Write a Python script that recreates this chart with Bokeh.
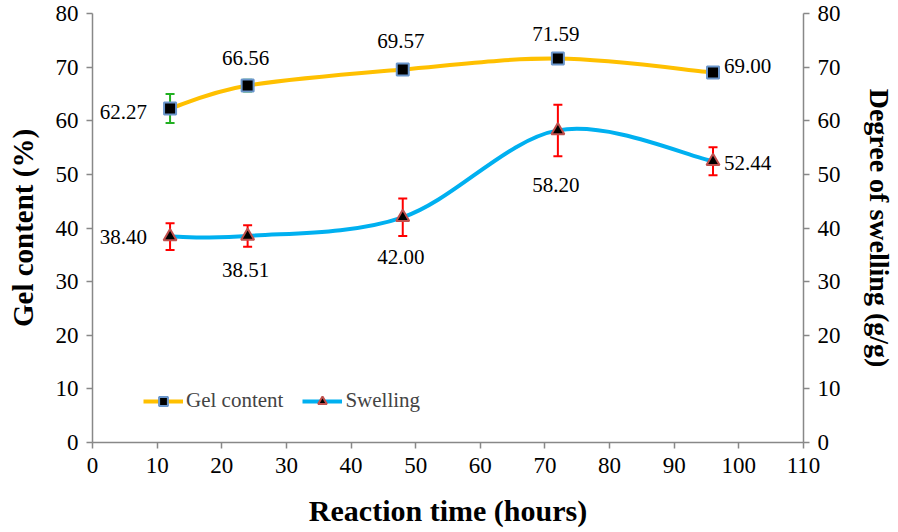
from bokeh.plotting import figure
from bokeh.models import (LinearAxis, FixedTicker, Whisker, TeeHead, ColumnDataSource,
                          Legend, LegendItem, Range1d)
from bokeh.core.properties import value
from bokeh.embed import file_html
from bokeh.resources import INLINE
import numpy as np

# ---- data ----
hours = [12, 24, 48, 72, 96]
gel_content = [62.27, 66.56, 69.57, 71.59, 69.00]
gel_err = [2.7, 1.1, 0.3, 0.3, 1.0]
swelling = [38.40, 38.51, 42.00, 58.20, 52.44]
swell_err = [2.5, 2.0, 3.5, 4.8, 2.6]
x_ticks = [0, 10, 20, 30, 40, 50, 60, 70, 80, 90, 100, 110]
y_ticks = [0, 10, 20, 30, 40, 50, 60, 70, 80]

FONT = "Liberation Serif"
AX = "#888888"

p = figure(width=898, height=532, output_backend="svg", toolbar_location=None,
           x_range=Range1d(0, 110), y_range=Range1d(0, 80),
           min_border_left=92, min_border_right=95, min_border_top=13,
           min_border_bottom=90)
p.outline_line_color = None
p.grid.visible = False


def style_axis(ax, label, size):
    ax.axis_label = label
    ax.axis_label_text_font = FONT
    ax.axis_label_text_font_style = "bold"
    ax.axis_label_text_font_size = size
    ax.axis_label_text_color = "black"
    ax.major_label_text_font = FONT
    ax.major_label_text_font_size = "23px"
    ax.major_label_text_color = "black"
    ax.axis_line_color = AX
    ax.axis_line_width = 1.5
    ax.major_tick_line_color = AX
    ax.major_tick_line_width = 1.5
    ax.major_tick_in = 0
    ax.major_tick_out = 6
    ax.minor_tick_line_color = None


p.xaxis.ticker = FixedTicker(ticks=x_ticks)
p.yaxis.ticker = FixedTicker(ticks=y_ticks)
style_axis(p.xaxis[0], "Reaction time (hours)", "30px")
style_axis(p.yaxis[0], "Gel content (%)", "29px")
p.xaxis.major_label_standoff = 9
p.xaxis.axis_label_standoff = 18
p.yaxis.major_label_standoff = 8
p.yaxis.axis_label_standoff = 14

ry = LinearAxis(ticker=FixedTicker(ticks=y_ticks))
style_axis(ry, "Degree of swelling (g/g)", "28px")
ry.major_label_standoff = 8
ry.axis_label_standoff = 20
p.add_layout(ry, "right")


def bezier_source(xs, ys):
    n = len(xs)
    P = [np.array([xs[i], ys[i]], dtype=float) for i in range(n)]
    d = dict(x0=[], y0=[], x1=[], y1=[], cx0=[], cy0=[], cx1=[], cy1=[])
    for i in range(n - 1):
        p0 = P[i - 1] if i > 0 else P[i]
        p1, p2 = P[i], P[i + 1]
        p3 = P[i + 2] if i + 2 < n else P[i + 1]
        c0 = p1 + (p2 - p0) / 6.0
        c1 = p2 - (p3 - p1) / 6.0
        d["x0"].append(p1[0]); d["y0"].append(p1[1])
        d["x1"].append(p2[0]); d["y1"].append(p2[1])
        d["cx0"].append(c0[0]); d["cy0"].append(c0[1])
        d["cx1"].append(c1[0]); d["cy1"].append(c1[1])
    return ColumnDataSource(d)


GOLD = "#FFC000"
BLUE = "#00B0F0"

gel_curve = p.bezier(source=bezier_source(hours, gel_content), x0="x0", y0="y0", x1="x1", y1="y1",
                     cx0="cx0", cy0="cy0", cx1="cx1", cy1="cy1", line_color=GOLD, line_width=4)
sw_curve = p.bezier(source=bezier_source(hours, swelling), x0="x0", y0="y0", x1="x1", y1="y1",
                    cx0="cx0", cy0="cy0", cx1="cx1", cy1="cy1", line_color=BLUE, line_width=4)

gsrc = ColumnDataSource(dict(x=hours, y=gel_content,
                             lo=[v - e for v, e in zip(gel_content, gel_err)],
                             hi=[v + e for v, e in zip(gel_content, gel_err)]))
ssrc = ColumnDataSource(dict(x=hours, y=swelling,
                             lo=[v - e for v, e in zip(swelling, swell_err)],
                             hi=[v + e for v, e in zip(swelling, swell_err)]))

for src, col in ((gsrc, "#22B022"), (ssrc, "#FF0000")):
    w = Whisker(source=src, base="x", lower="lo", upper="hi", line_color=col, line_width=2,
                upper_head=TeeHead(size=9, line_color=col, line_width=2),
                lower_head=TeeHead(size=9, line_color=col, line_width=2))
    p.add_layout(w)

gel_mk = p.scatter("x", "y", source=gsrc, marker="square", size=12, fill_color="black",
                   line_color="#6A96CC", line_width=2)
sw_mk = p.scatter("x", "y", source=ssrc, marker="triangle", size=13, fill_color="black",
                  line_color="#C0504D", line_width=2)


def label_src(xs, ys):
    return ColumnDataSource(dict(x=xs, y=ys, t=["%.2f" % v for v in ys]))


# data labels (value, placement)
lab_style = dict(text_font=value(FONT), text_font_size="21px", text_color="black")
placements = [
    (hours[0], gel_content[0], "right", -23, 3),
    (hours[1], gel_content[1], "center", -2, -28),
    (hours[2], gel_content[2], "center", -2, -28),
    (hours[3], gel_content[3], "center", -2, -25),
    (hours[4], gel_content[4], "left", 11, -6),
    (hours[0], swelling[0], "right", -23, 0),
    (hours[1], swelling[1], "center", -2, 34),
    (hours[2], swelling[2], "center", -2, 40),
    (hours[3], swelling[3], "center", -2, 55),
    (hours[4], swelling[4], "left", 11, 2),
]
for xv, yv, align, dx, dy in placements:
    p.text("x", "y", "t", source=label_src([xv], [yv]), text_align=align,
           text_baseline="middle", x_offset=dx, y_offset=dy, **lab_style)

legend = Legend(items=[LegendItem(label="Gel content", renderers=[gel_curve, gel_mk]),
                       LegendItem(label="Swelling", renderers=[sw_curve, sw_mk])],
                location=(51, 29), orientation="horizontal", padding=0, margin=0,
                spacing=19, glyph_width=40, glyph_height=22, label_standoff=3,
                label_text_font=FONT, label_text_font_size="21px",
                background_fill_alpha=0, border_line_color=None)
p.add_layout(legend)

open("out.html", "w").write(file_html(p, INLINE))
